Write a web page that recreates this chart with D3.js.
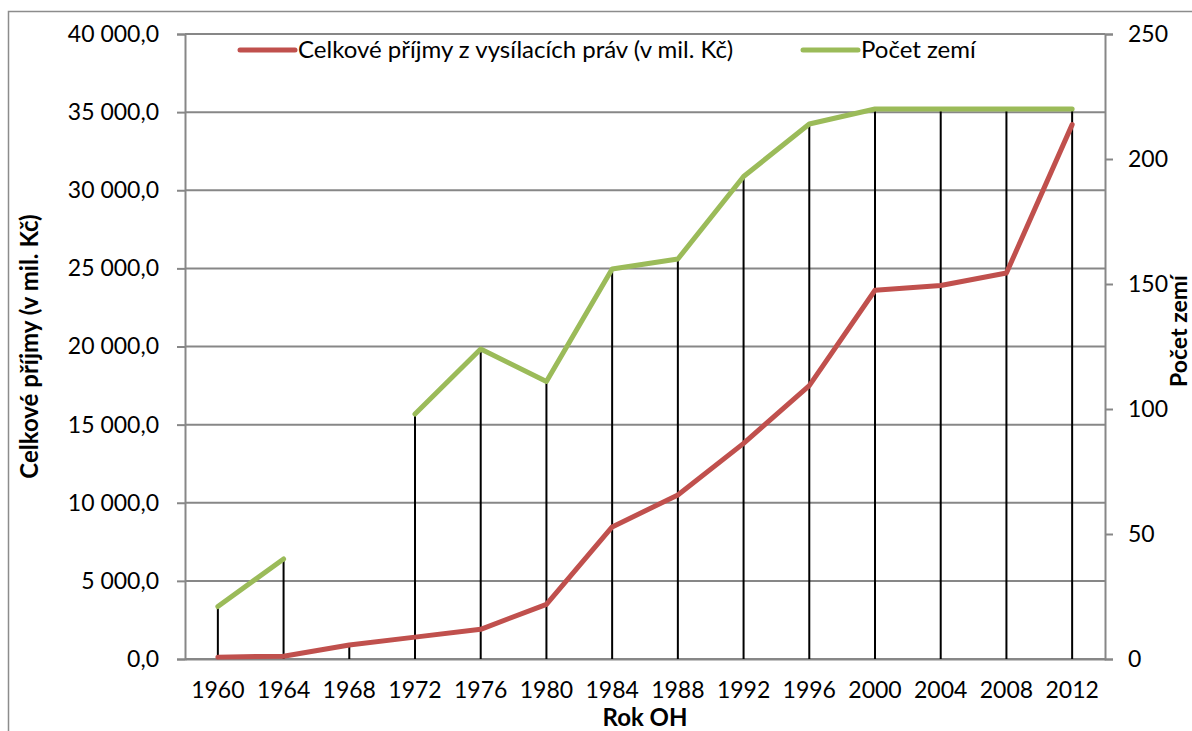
<!DOCTYPE html>
<html>
<head>
<meta charset="utf-8">
<script src="https://cdn.jsdelivr.net/npm/d3@7"></script>
<style>
  body { margin: 0; background: #fff; }
  text { font-family: Lato, "Open Sans", sans-serif; fill: #000; }
</style>
</head>
<body>
<div id="chart"></div>
<script>
const years = ['1960', '1964', '1968', '1972', '1976', '1980', '1984', '1988', '1992', '1996', '2000', '2004', '2008', '2012']
// Celkové příjmy z vysílacích práv (v mil. Kč)
const revenue = [120, 180, 900, 1400, 1900, 3500, 8450, 10500, 13800, 17500, 23600, 23900, 24700, 34200]
// Počet zemí (1968 chybí)
const countries = [21, 40, null, 98, 124, 111, 156, 160, 193, 214, 220, 220, 220, 220]
const leftTicks = [0, 5000, 10000, 15000, 20000, 25000, 30000, 35000, 40000]
const rightTicks = [0, 50, 100, 150, 200, 250]

const w = 1192
const h = 731
const plotL = 185, plotR = 1105, plotT = 34, plotB = 659

const cz = d3.formatLocale({ decimal: ',', thousands: '\u00a0', grouping: [3], currency: ['', ''] })
const fmt = cz.format(',.1f')

const x = d3.scaleBand().domain(years).range([plotL, plotR])
const cx = (d) => x(d) + x.bandwidth() / 2
const yL = d3.scaleLinear().domain([0, 40000]).range([plotB, plotT])
const yR = d3.scaleLinear().domain([0, 250]).range([plotB, plotT])

const svg = d3.select('#chart')
  .append('svg')
  .attr('width', w)
  .attr('height', h)

// rámeček grafu
svg.append('rect')
  .attr('x', 8.5).attr('y', 11.5)
  .attr('width', 1400).attr('height', 1000)
  .attr('fill', 'none')
  .attr('stroke', '#8c8c8c')
  .attr('stroke-width', 1.5)

// mřížka
svg.append('g')
  .selectAll('line')
  .data(leftTicks)
  .enter()
  .append('line')
  .attr('x1', plotL).attr('x2', plotR)
  .attr('y1', (d) => yL(d)).attr('y2', (d) => yL(d))
  .attr('stroke', '#878787')
  .attr('stroke-width', 2)

// levá osa
const axL = svg.append('g')
  .attr('transform', 'translate(' + plotL + ',0)')
  .call(d3.axisLeft(yL).tickValues(leftTicks).tickFormat(fmt).tickSize(8).tickPadding(18))
axL.selectAll('text').style('font-size', '23px')

// pravá osa
const axR = svg.append('g')
  .attr('transform', 'translate(' + plotR + ',0)')
  .call(d3.axisRight(yR).tickValues(rightTicks).tickSize(8).tickPadding(15))
axR.selectAll('text').style('font-size', '23px')

// osa x
const axX = svg.append('g')
  .attr('transform', 'translate(0,' + plotB + ')')
  .call(d3.axisBottom(x).tickSize(0).tickPadding(23))
axX.selectAll('text').style('font-size', '23px')

svg.selectAll('.domain, .tick line')
  .attr('stroke', '#878787')
  .attr('stroke-width', 2)

// svislé spojnice
const drops = years.map((yr, i) => {
  const a = yL(revenue[i])
  const b = countries[i] == null ? plotB : yR(countries[i])
  return { yr, y: Math.min(a, b) }
})
svg.append('g')
  .selectAll('line')
  .data(drops)
  .enter()
  .append('line')
  .attr('x1', (d) => cx(d.yr)).attr('x2', (d) => cx(d.yr))
  .attr('y1', (d) => d.y).attr('y2', plotB)
  .attr('stroke', '#000')
  .attr('stroke-width', 2)

const redLine = d3.line()
  .x((d, i) => cx(years[i]))
  .y((d) => yL(d))

const greenLine = d3.line()
  .defined((d) => d != null)
  .x((d, i) => cx(years[i]))
  .y((d) => yR(d))

svg.append('path')
  .datum(revenue)
  .attr('d', redLine)
  .attr('fill', 'none')
  .attr('stroke', '#C0504D')
  .attr('stroke-width', 5)
  .attr('stroke-linejoin', 'round')
  .attr('stroke-linecap', 'round')

svg.append('path')
  .datum(countries)
  .attr('d', greenLine)
  .attr('fill', 'none')
  .attr('stroke', '#9BBB59')
  .attr('stroke-width', 5)
  .attr('stroke-linejoin', 'round')
  .attr('stroke-linecap', 'round')

// legenda
const legend = [
  { name: 'Celkové příjmy z vysílacích práv (v mil. Kč)', color: '#C0504D', x: 240 },
  { name: 'Počet zemí', color: '#9BBB59', x: 803 }
]
const lg = svg.append('g')
  .selectAll('g')
  .data(legend)
  .enter()
  .append('g')
  .attr('transform', (d) => 'translate(' + d.x + ',50)')
lg.append('line')
  .attr('x1', 0).attr('x2', 55)
  .attr('stroke', (d) => d.color)
  .attr('stroke-width', 5)
  .attr('stroke-linecap', 'round')
lg.append('text')
  .attr('x', 58).attr('y', 8)
  .style('font-size', '24px')
  .text((d) => d.name)

// popisky os
svg.append('text')
  .attr('transform', 'translate(38,' + (plotT + plotB) / 2 + ') rotate(-90)')
  .attr('text-anchor', 'middle')
  .style('font-size', '24px')
  .style('font-weight', 'bold')
  .text('Celkové příjmy (v mil. Kč)')

svg.append('text')
  .attr('transform', 'translate(1187,331) rotate(-90)')
  .attr('text-anchor', 'middle')
  .style('font-size', '23px')
  .style('font-weight', 'bold')
  .text('Počet zemí')

svg.append('text')
  .attr('x', (plotL + plotR) / 2).attr('y', 726)
  .attr('text-anchor', 'middle')
  .style('font-size', '24px')
  .style('font-weight', 'bold')
  .text('Rok OH')
</script>
</body>
</html>
